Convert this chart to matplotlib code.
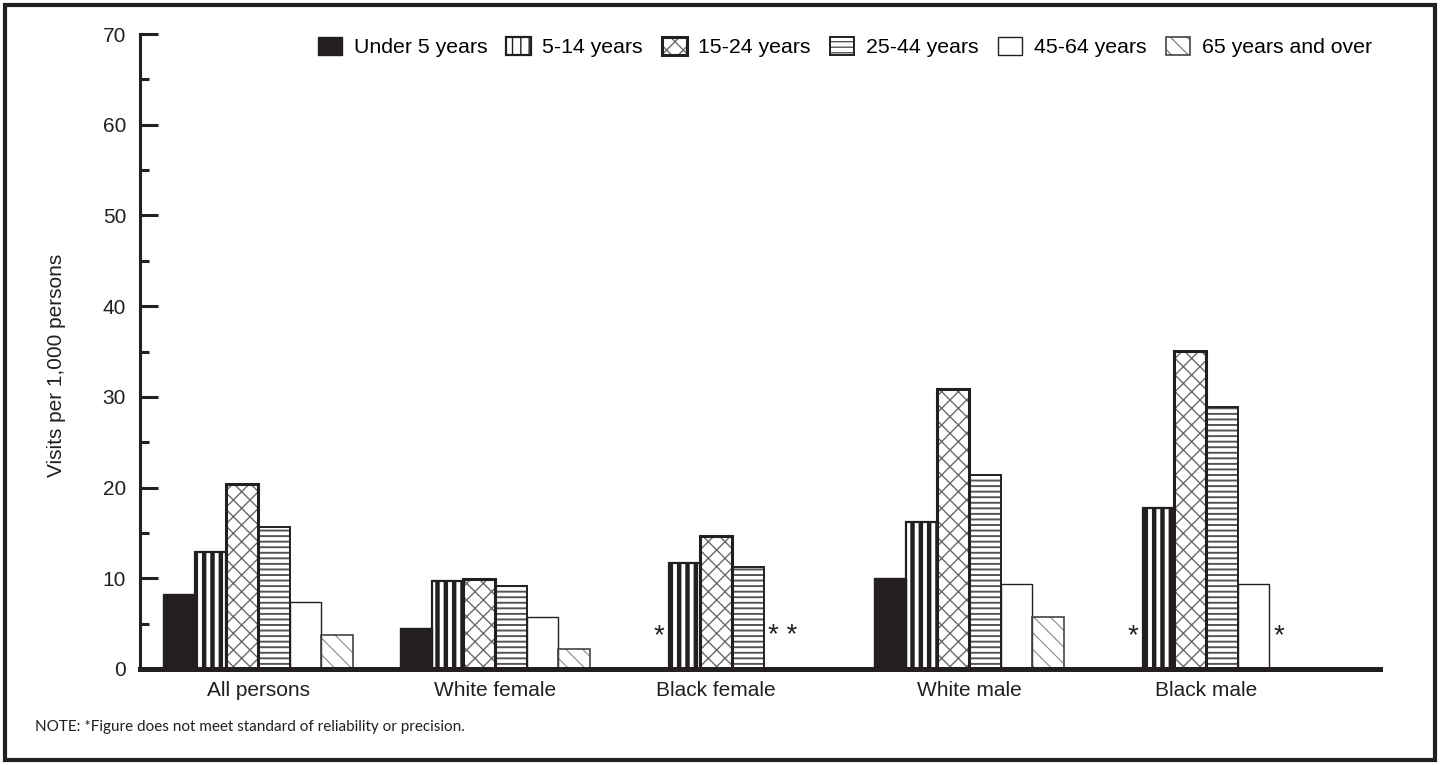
import matplotlib
matplotlib.use("Agg")
import matplotlib.pyplot as plt
import matplotlib.patches as mpatches
import numpy as np

plt.rcParams['font.family'] = ['Liberation Sans', 'DejaVu Sans']

groups = ["All persons", "White female", "Black female", "White male", "Black male"]
series = ["Under 5 years", "5-14 years", "15-24 years", "25-44 years", "45-64 years", "65 years and over"]

under5 = [8.3, 4.5, np.nan, 10.0, np.nan]
age5_14 = [12.9, 9.7, 11.7, 16.2, 17.7]
age15_24 = [20.4, 9.9, 14.7, 30.9, 35.1]
age25_44 = [15.6, 9.2, 11.2, 21.4, 28.9]
age45_64 = [7.4, 5.7, np.nan, 9.4, 9.4]
age65_over = [3.7, 2.2, np.nan, 5.7, np.nan]
values = [under5, age5_14, age15_24, age25_44, age45_64, age65_over]

# (group, series index, text) for unreliable figures
stars = [(2, 0, "*"), (2, 4, "* *"), (4, 0, "*"), (4, 5, "*")]

yticks = [0, 10, 20, 30, 40, 50, 60, 70]

INK = "#231f20"
styles = [
    dict(face=INK, hatch=None, hcol=INK, hlw=1.0, lw=1.0),
    dict(face="white", hatch="||", hcol=INK, hlw=3.2, lw=1.6),
    dict(face="white", hatch="xx", hcol="#6a6a6a", hlw=1.0, lw=2.2),
    dict(face="white", hatch="---", hcol="#555555", hlw=1.4, lw=1.4),
    dict(face="white", hatch=None, hcol=INK, hlw=1.0, lw=1.0),
    dict(face="white", hatch="\\\\", hcol="#8a8a8a", hlw=0.8, lw=1.2),
]
edge_cols = [INK, INK, INK, INK, INK, "#444444"]

fig = plt.figure(figsize=(14.4, 7.65), dpi=100)
ax = fig.add_axes([140/1440, 96/765, 1240/1440, 635/765])

x = np.arange(len(groups))
w = 0.1337
handles = []
for i, (name, vals, st) in enumerate(zip(series, values, styles)):
    pos = x + (i - 2.5) * w
    with plt.rc_context({'hatch.linewidth': st['hlw'], 'hatch.color': st['hcol']}):
        fill = ax.bar(pos, vals, width=w, facecolor=st['face'], edgecolor=st['hcol'],
                      hatch=st['hatch'], linewidth=0, zorder=2)
    outline = ax.bar(pos, vals, width=w, fill=False, edgecolor=edge_cols[i],
                     linewidth=st['lw'], zorder=2.5)
    handles.append((fill, outline))

for g, i, t in stars:
    xc = x[g] + (i - 2.5) * w
    if i == 0:
        ax.annotate(t, (xc + w / 2, 3.6), xytext=(-3, 0), textcoords="offset points",
                    ha="right", va="center", fontsize=20, color=INK)
    else:
        ax.annotate(t, (xc - w / 2, 3.6), xytext=(3, 0), textcoords="offset points",
                    ha="left", va="center", fontsize=20, color=INK)

# category labels centred under the bars that are actually drawn
vals_arr = np.array(values, dtype=float)
label_pos = []
for g in range(len(groups)):
    present = [i for i in range(len(series)) if not np.isnan(vals_arr[i, g])]
    lo = x[g] + (min(present) - 2.5) * w
    hi = x[g] + (max(present) - 2.5) * w
    label_pos.append((lo + hi) / 2)

ax.set_ylim(0, 70)
ax.set_xlim(-0.498, 4.734)
ax.set_yticks(yticks)
ax.set_yticks(np.arange(5, 70, 10), minor=True)
ax.tick_params(axis="y", which="major", direction="in", length=13, width=2.2,
               labelsize=15, pad=10, colors=INK)
ax.tick_params(axis="y", which="minor", direction="in", length=6.5, width=2.2, colors=INK)
ax.set_xticks(label_pos)
ax.set_xticklabels(groups, fontsize=15, color=INK)
ax.tick_params(axis="x", length=0, pad=9)
for s in ["top", "right"]:
    ax.spines[s].set_visible(False)
ax.spines["left"].set_linewidth(2.2)
ax.spines["left"].set_color(INK)
ax.spines["bottom"].set_linewidth(3.6)
ax.spines["bottom"].set_color(INK)
ax.spines["bottom"].set_zorder(3)

fig.text(57/1440, 1 - 365/765, "Visits per 1,000 persons", rotation=90,
         ha="center", va="center", fontsize=15, color=INK)

leg = fig.legend(handles=handles, labels=series, ncol=6, loc="upper right",
                 bbox_to_anchor=(1372/1440, 1 - 37/765), frameon=False, fontsize=15.3,
                 handlelength=1.15, handleheight=0.95, handletextpad=0.55,
                 columnspacing=0.9, borderaxespad=0, borderpad=0)

fig.text(35/1440, 1 - 727/765, "NOTE: *Figure does not meet standard of reliability or precision.",
         ha="left", va="center", fontsize=11, color=INK,
         family=["Lato", "DejaVu Sans"])

fig.patches.append(mpatches.Rectangle((5/1440, 5/765), 1430/1440, 755/765,
                                      transform=fig.transFigure, fill=False,
                                      edgecolor=INK, linewidth=3))

fig.savefig("out.png", dpi=100)
